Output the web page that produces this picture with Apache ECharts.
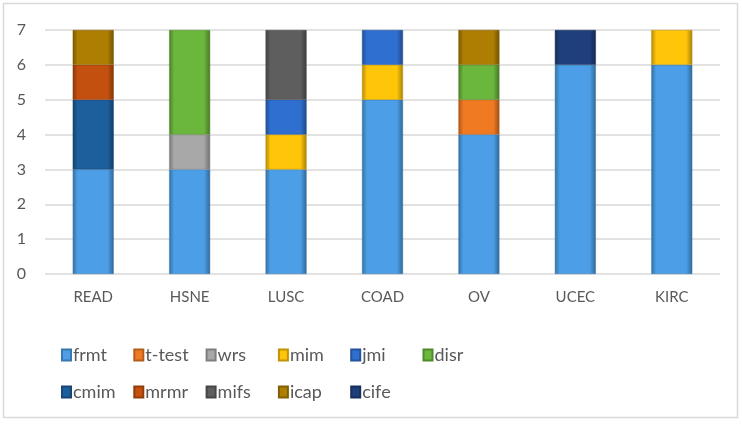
<!DOCTYPE html>
<html><head><meta charset="utf-8">
<script src="https://cdn.jsdelivr.net/npm/echarts@6/dist/echarts.min.js"></script>
<style>html,body{margin:0;padding:0;background:#fff}#c{width:742px;height:426px}</style>
</head><body><div id="c"></div>
<script>
const categories = ['READ','HSNE','LUSC','COAD','OV','UCEC','KIRC'];
const yTicks = [0,1,2,3,4,5,6,7];
const frmt   = [3, 3, 3, 5, 4, 6, 6];
const ttest  = [null, null, null, null, 1, null, null];
const wrs    = [null, 1, null, null, null, null, null];
const mim    = [null, null, 1, 1, null, null, 1];
const jmi    = [null, null, 1, 1, null, null, null];
const disr   = [null, 3, null, null, 1, null, null];
const cmim   = [2, null, null, null, null, null, null];
const mrmr   = [1, null, null, null, null, null, null];
const mifs   = [null, null, 2, null, null, null, null];
const icap   = [1, null, null, null, 1, null, null];
const cife   = [null, null, null, null, null, 1, null];

const seriesNames = ['frmt','t-test','wrs','mim','jmi','disr','cmim','mrmr','mifs','icap','cife'];
const seriesData = [frmt, ttest, wrs, mim, jmi, disr, cmim, mrmr, mifs, icap, cife];
const colors = ['#4C9FE6','#F07A22','#A8A8A8','#FFC508','#2F6FD0','#6BB63C','#1D5F9C','#C4500F','#5E5E5E','#AD7E02','#1F3F7C'];

function shade(hex, f){
  const n = parseInt(hex.slice(1),16);
  let r=(n>>16)&255,g=(n>>8)&255,b=n&255;
  r=Math.round(r*f);g=Math.round(g*f);b=Math.round(b*f);
  return 'rgb('+r+','+g+','+b+')';
}
function grad(c){
  return new echarts.graphic.LinearGradient(0,0,1,0,[
    {offset:0,color:shade(c,0.7)},
    {offset:0.12,color:c},
    {offset:0.85,color:c},
    {offset:1,color:shade(c,0.65)}
  ]);
}

const font = "Lato,'Liberation Sans',sans-serif";
const legends = seriesNames.map((n,i)=>({
  data:[n],
  left: 61 + (i%6)*72.3,
  top: i<6 ? 346 : 383,
  padding:0,
  itemWidth:9,itemHeight:11,icon:'rect',
  textStyle:{fontSize:18,color:'#595959',fontFamily:font,padding:[0,0,0,-3]}
}));

const chart = echarts.init(document.getElementById('c'));
chart.setOption({
  animation:false,
  color: colors,
  graphic:[{type:'rect',shape:{x:3.5,y:3.5,width:734,height:414},style:{fill:'none',stroke:'#d9d9d9',lineWidth:1.5},silent:true}],
  grid:{left:45,right:22,top:30,bottom:152},
  xAxis:{type:'category',data:categories,
    axisLine:{show:false},axisTick:{show:false},
    axisLabel:{color:'#595959',fontSize:15,fontFamily:font,margin:16}},
  yAxis:{type:'value',min:0,max:7,interval:1,
    axisLine:{show:false},axisTick:{show:false},
    splitLine:{lineStyle:{color:'#d9d9d9',width:1.5}},
    axisLabel:{color:'#595959',fontSize:16,fontFamily:font,margin:19,
      formatter:function(v){return yTicks.includes(v)?String(v):'';}}},
  legend: legends,
  series: seriesNames.map((n,i)=>({
    name:n,type:'bar',stack:'total',barWidth:41,
    data:seriesData[i],
    itemStyle:{color:grad(colors[i]),borderColor:shade(colors[i],0.75),borderWidth:0.5}
  }))
});
</script></body></html>
